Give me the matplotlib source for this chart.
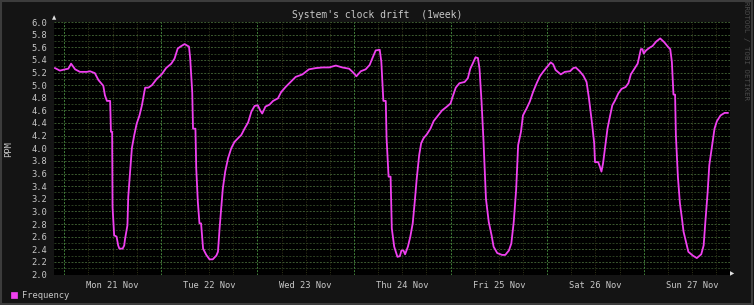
from datetime import datetime, timedelta

import matplotlib
matplotlib.use("Agg")
import matplotlib.pyplot as plt
import matplotlib.dates as mdates
from matplotlib.patches import Rectangle

# hours since Mon 21 Nov 00:00 and frequency offset (PPM)
hours = [
    -2.3, -1.1, 0.2, 1.0, 1.7, 2.7, 3.9, 5.6, 6.4, 7.6, 8.5, 9.7, 10.1, 10.6, 11.4,
    11.6, 11.9, 12.0, 12.4, 13.0, 13.4, 13.7, 14.5, 14.9, 15.1, 15.7, 15.9, 16.4,
    16.8, 17.4, 18.0, 18.7, 19.3, 20.1, 20.9, 21.8, 23.0, 24.2, 25.3, 26.6, 27.4,
    28.2, 29.1, 29.9, 31.0, 31.3, 31.8, 32.0, 32.6, 32.8, 33.2, 33.6, 34.0, 34.5,
    35.3, 36.1, 36.9, 37.8, 38.2, 38.6, 39.0, 39.4, 40.0, 40.7, 41.5, 42.3, 43.2,
    44.0, 44.8, 45.7, 46.5, 47.3, 48.1, 48.7, 49.2, 50.0, 51.0, 51.9, 53.1, 53.9,
    55.0, 56.7, 57.5, 59.2, 60.8, 62.5, 64.2, 65.8, 67.5, 69.1, 70.8, 71.8, 72.6,
    73.7, 74.9, 75.9, 76.6, 77.4, 78.4, 78.8, 79.3, 79.9, 80.1, 80.6, 81.1, 81.4,
    82.0, 82.8, 83.4, 83.8, 84.3, 84.7, 85.4, 86.0, 86.6, 87.1, 87.6, 88.2, 88.7,
    89.3, 90.1, 91.0, 91.8, 92.9, 93.9, 95.1, 96.0, 96.6, 97.3, 98.2, 99.5, 100.3,
    100.9, 101.5, 102.2, 102.8, 103.2, 103.7, 104.2, 104.8, 105.5, 106.2, 106.7,
    107.6, 108.8, 109.6, 110.5, 111.1, 111.7, 112.3, 112.8, 113.5, 114.0, 114.9,
    115.7, 116.5, 117.4, 118.2, 119.0, 120.0, 120.9, 121.5, 122.1, 123.4, 124.4,
    125.7, 126.5, 127.1, 128.1, 129.0, 129.8, 130.4, 131.2, 131.7, 131.9, 132.7,
    133.1, 133.5, 133.9, 134.4, 135.0, 135.6, 136.2, 136.9, 137.7, 138.5, 139.5,
    140.2, 140.8, 141.7, 142.5, 143.3, 143.7, 144.0, 144.6, 145.4, 146.2, 147.1,
    148.1, 149.1, 150.0, 150.6, 151.0, 151.4, 151.8, 152.0, 152.5, 153.0, 153.5,
    153.9, 154.5, 155.1, 156.2, 157.2, 158.3, 158.9, 159.3, 159.9, 160.3, 160.9,
    161.6, 162.2, 163.1, 164.1, 164.9,
]
ppm = [
    5.27, 5.23, 5.25, 5.26, 5.34, 5.25, 5.21, 5.21, 5.22, 5.19, 5.08, 4.99, 4.84, 4.75, 4.75,
    4.26, 4.26, 3.07, 2.62, 2.60, 2.46, 2.41, 2.41, 2.46, 2.56, 2.78, 3.23, 3.65,
    4.00, 4.21, 4.39, 4.52, 4.68, 4.96, 4.96, 5.00, 5.10, 5.17, 5.27, 5.34, 5.42,
    5.58, 5.62, 5.65, 5.61, 5.42, 4.89, 4.31, 4.31, 3.68, 3.15, 2.81, 2.81, 2.41,
    2.31, 2.24, 2.24, 2.30, 2.36, 2.73, 3.05, 3.36, 3.63, 3.84, 4.00, 4.10, 4.16,
    4.21, 4.31, 4.41, 4.58, 4.67, 4.68, 4.60, 4.55, 4.66, 4.69, 4.75, 4.79, 4.89,
    4.97, 5.08, 5.13, 5.17, 5.25, 5.27, 5.28, 5.28, 5.31, 5.28, 5.26, 5.20, 5.14,
    5.22, 5.25, 5.32, 5.43, 5.55, 5.56, 5.37, 4.75, 4.75, 4.16, 3.55, 3.55, 2.73,
    2.44, 2.28, 2.29, 2.38, 2.38, 2.32, 2.44, 2.60, 2.81, 3.15, 3.52, 3.89, 4.08,
    4.16, 4.22, 4.31, 4.43, 4.52, 4.60, 4.66, 4.71, 4.83, 4.96, 5.03, 5.05, 5.11,
    5.26, 5.34, 5.44, 5.43, 5.26, 4.74, 4.10, 3.20, 2.83, 2.62, 2.44,
    2.34, 2.31, 2.31, 2.38, 2.49, 2.83, 3.34, 4.05, 4.26, 4.52, 4.63,
    4.74, 4.89, 5.03, 5.14, 5.21, 5.29, 5.36, 5.33, 5.24, 5.17, 5.21,
    5.22, 5.27, 5.28, 5.22, 5.15, 5.05, 4.79, 4.37, 4.08, 3.78, 3.78,
    3.71, 3.63, 3.76, 4.01, 4.31, 4.50, 4.68, 4.76, 4.87, 4.94, 4.97,
    5.03, 5.17, 5.26, 5.34, 5.57, 5.57, 5.50, 5.55, 5.59, 5.62, 5.69,
    5.74, 5.68, 5.61, 5.57, 5.37, 4.85, 4.85, 4.21, 3.55, 3.13, 2.89,
    2.68, 2.52, 2.36, 2.30, 2.26, 2.32, 2.46, 2.81, 3.31, 3.73, 4.00,
    4.31, 4.43, 4.52, 4.56, 4.56,
]
day_labels = ["Mon 21 Nov", "Tue 22 Nov", "Wed 23 Nov", "Thu 24 Nov",
              "Fri 25 Nov", "Sat 26 Nov", "Sun 27 Nov"]
y_ticks = [2.0 + 0.2 * i for i in range(21)]

base = datetime(2022, 11, 21)
times = [base + timedelta(hours=h) for h in hours]
t_start = base - timedelta(hours=2.55)
t_end = t_start + timedelta(days=7)

mono = "DejaVu Sans Mono"
txt = "#c8c8c8"

fig = plt.figure(figsize=(7.54, 3.05), dpi=100, facecolor="#141414")
ax = fig.add_axes([54 / 754, 1 - 274.5 / 305, 676 / 754, 252.5 / 305])
ax.set_facecolor("#000000")

# grid: horizontal every 0.1, vertical every 6 hours, stronger at midnight
for i in range(41):
    v = 2.0 + 0.1 * i
    col = "#3c5a30" if i % 2 == 0 else "#2c3f22"
    ax.axhline(v, color=col, lw=0.7, ls=(0, (2, 1.5)), zorder=1)
t = base
while t > t_start:
    t -= timedelta(hours=6)
while t <= t_end:
    if t.hour == 0:
        ax.axvline(t, color="#40803a", lw=0.7, ls=(0, (2, 1.5)), zorder=1)
    elif t > t_start:
        ax.axvline(t, color="#33361a", lw=0.7, ls=(0, (1, 1.5)), zorder=1)
    t += timedelta(hours=6)

ax.plot(times, ppm, color="#f040f0", lw=1.3, zorder=3)

ax.set_xlim(t_start, t_end)
ax.set_ylim(2.0, 6.0)
ax.set_yticks(y_ticks)
ax.set_yticklabels([f"{v:.1f}" for v in y_ticks])
noons = [base + timedelta(days=d, hours=12) for d in range(7)]
ax.set_xticks([mdates.date2num(n) for n in noons])
ax.set_xticklabels(day_labels)
ax.tick_params(colors=txt, length=0, labelsize=6.3, pad=5)
for lab in ax.get_xticklabels() + ax.get_yticklabels():
    lab.set_family(mono)
for s in ax.spines.values():
    s.set_visible(False)

# axis arrows
fig.text(54 / 754, 1 - 18 / 305, "\u25b2", color="#e0e0e0", fontsize=4,
         ha="center", va="center")
fig.text(732 / 754, 1 - 274 / 305, "\u25b6", color="#e0e0e0", fontsize=4,
         ha="center", va="center")

fig.text(377 / 754, 1 - 15 / 305, "System's clock drift  (1week)", color=txt,
         family=mono, fontsize=7, ha="center", va="center")
fig.text(9 / 754, 1 - 149 / 305, "PPM", color=txt, family=mono, fontsize=6.3,
         rotation=90, ha="center", va="center")
fig.text(746 / 754, 1 - 51 / 305, "RRDTOOL / TOBI OETIKER", color="#4a4a4a",
         family=mono, fontsize=5.3, rotation=270, ha="center", va="center")

# legend
fig.patches.append(Rectangle((11 / 754, 1 - 298 / 305), 6 / 754, 6 / 305,
                             transform=fig.transFigure, facecolor="#f040f0",
                             edgecolor="#f040f0", lw=0.5))
fig.text(22 / 754, 1 - 295 / 305, "Frequency", color=txt, family=mono,
         fontsize=6.3, ha="left", va="center")

# outer frame
fig.patches.append(Rectangle((0.001, 0.003), 0.997, 0.994, transform=fig.transFigure,
                             facecolor="none", edgecolor="#3c3c3c", lw=1.5))

fig.savefig("out.png", dpi=100, facecolor=fig.get_facecolor())
